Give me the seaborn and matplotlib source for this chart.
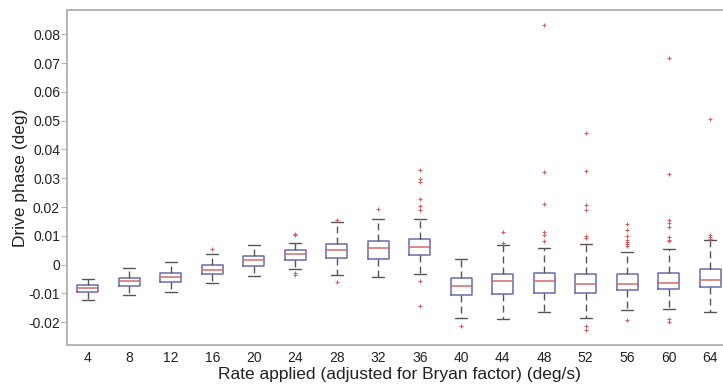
import matplotlib
matplotlib.use("Agg")
import matplotlib.pyplot as plt
import seaborn as sns

# ---- data ----
rates = [4, 8, 12, 16, 20, 24, 28, 32, 36, 40, 44, 48, 52, 56, 60, 64]
whisker_low = [-0.0124, -0.0104, -0.0094, -0.0063, -0.0040, -0.0014, -0.0036, -0.0044,
               -0.0031, -0.0184, -0.0188, -0.0165, -0.0184, -0.0159, -0.0153, -0.0165]
q1 = [-0.0095, -0.0073, -0.0059, -0.0034, -0.0006, 0.0017, 0.0024, 0.0021,
      0.0033, -0.0104, -0.0101, -0.0097, -0.0099, -0.0089, -0.0085, -0.0078]
median = [-0.0082, -0.0057, -0.0043, -0.0017, 0.0017, 0.0038, 0.0050, 0.0057,
          0.0061, -0.0074, -0.0057, -0.0058, -0.0068, -0.0066, -0.0064, -0.0052]
q3 = [-0.0069, -0.0047, -0.0030, -0.0003, 0.0029, 0.0052, 0.0073, 0.0083,
      0.0089, -0.0048, -0.0031, -0.0029, -0.0031, -0.0034, -0.0029, -0.0014]
whisker_high = [-0.0049, -0.0013, 0.0009, 0.0037, 0.0067, 0.0075, 0.0147, 0.0160,
                0.0160, 0.0021, 0.0067, 0.0059, 0.0073, 0.0044, 0.0056, 0.0084]
outliers = [
    [],
    [],
    [],
    [0.0056],
    [],
    [0.0108, 0.0102, -0.0029, -0.0037],
    [0.0156, -0.0061],
    [0.0192],
    [0.0327, 0.0297, 0.0286, 0.0229, 0.0205, 0.0188, -0.0057, -0.0144],
    [-0.0212],
    [0.0113, 0.0075],
    [0.0831, 0.0320, 0.0211, 0.0113, 0.0104, 0.0082],
    [0.0458, 0.0324, 0.0208, 0.0189, 0.0098, 0.0092, -0.0214, -0.0228],
    [0.0142, 0.0119, 0.0100, 0.0087, 0.0080, 0.0073, 0.0064, -0.0191],
    [0.0717, 0.0314, 0.0156, 0.0144, 0.0131, 0.0096, 0.0087, 0.0082, -0.0188, -0.0199],
    [0.0507, 0.0104, 0.0096, 0.0090],
]
y_ticks = [-0.02, -0.01, 0, 0.01, 0.02, 0.03, 0.04, 0.05, 0.06, 0.07, 0.08]
y_ticklabels = ["-0.02", "-0.01", "0", "0.01", "0.02", "0.03", "0.04", "0.05",
                "0.06", "0.07", "0.08"]

sns.set_style("white")
plt.rcParams["font.family"] = ["Liberation Sans", "DejaVu Sans"]

fig = plt.figure(figsize=(7.23, 3.90), dpi=100)
ax = fig.add_axes([67 / 723, 45 / 390, (731 - 67) / 723, (345 - 10) / 390])

stats = []
for i, r in enumerate(rates):
    stats.append(dict(label=str(r), whislo=whisker_low[i], q1=q1[i], med=median[i],
                      q3=q3[i], whishi=whisker_high[i], fliers=outliers[i]))

positions = list(range(1, len(rates) + 1))
ax.bxp(stats, positions=positions, widths=0.5, capwidths=0.3, showfliers=True,
       boxprops=dict(color="#6a6aaa", linewidth=1.1),
       medianprops=dict(color="#d46a6a", linewidth=1.1),
       whiskerprops=dict(color="#555555", linewidth=1.0, linestyle=(0, (5, 3))),
       capprops=dict(color="#555555", linewidth=1.0),
       flierprops=dict(marker="+", markeredgecolor="#d86060", markersize=3.5,
                       markeredgewidth=0.8, linestyle="none"))

ax.set_xlim(0.5, len(rates) + 0.5)
ax.set_ylim(-0.0279, 0.0884)
ax.set_yticks(y_ticks)
ax.set_yticklabels(y_ticklabels)
ax.set_xticks(positions)
ax.set_xticklabels([str(r) for r in rates])

for s in ax.spines.values():
    s.set_color("#b4b4b4")
    s.set_linewidth(1.4)
    s.set_visible(True)

ax.tick_params(axis="x", length=0, pad=4, labelsize=10, colors="#222222")
ax.tick_params(axis="y", which="both", left=True, right=True, direction="out",
               length=4, width=0.8, color="#b4b4b4", labelsize=10,
               labelcolor="#222222", pad=1)

ax.set_xlabel("Rate applied (adjusted for Bryan factor) (deg/s)", fontsize=12.5,
              color="#222222", labelpad=2)
ax.set_ylabel("Drive phase (deg)", fontsize=12.5, color="#222222", labelpad=0)

fig.savefig("out.png", dpi=100)
